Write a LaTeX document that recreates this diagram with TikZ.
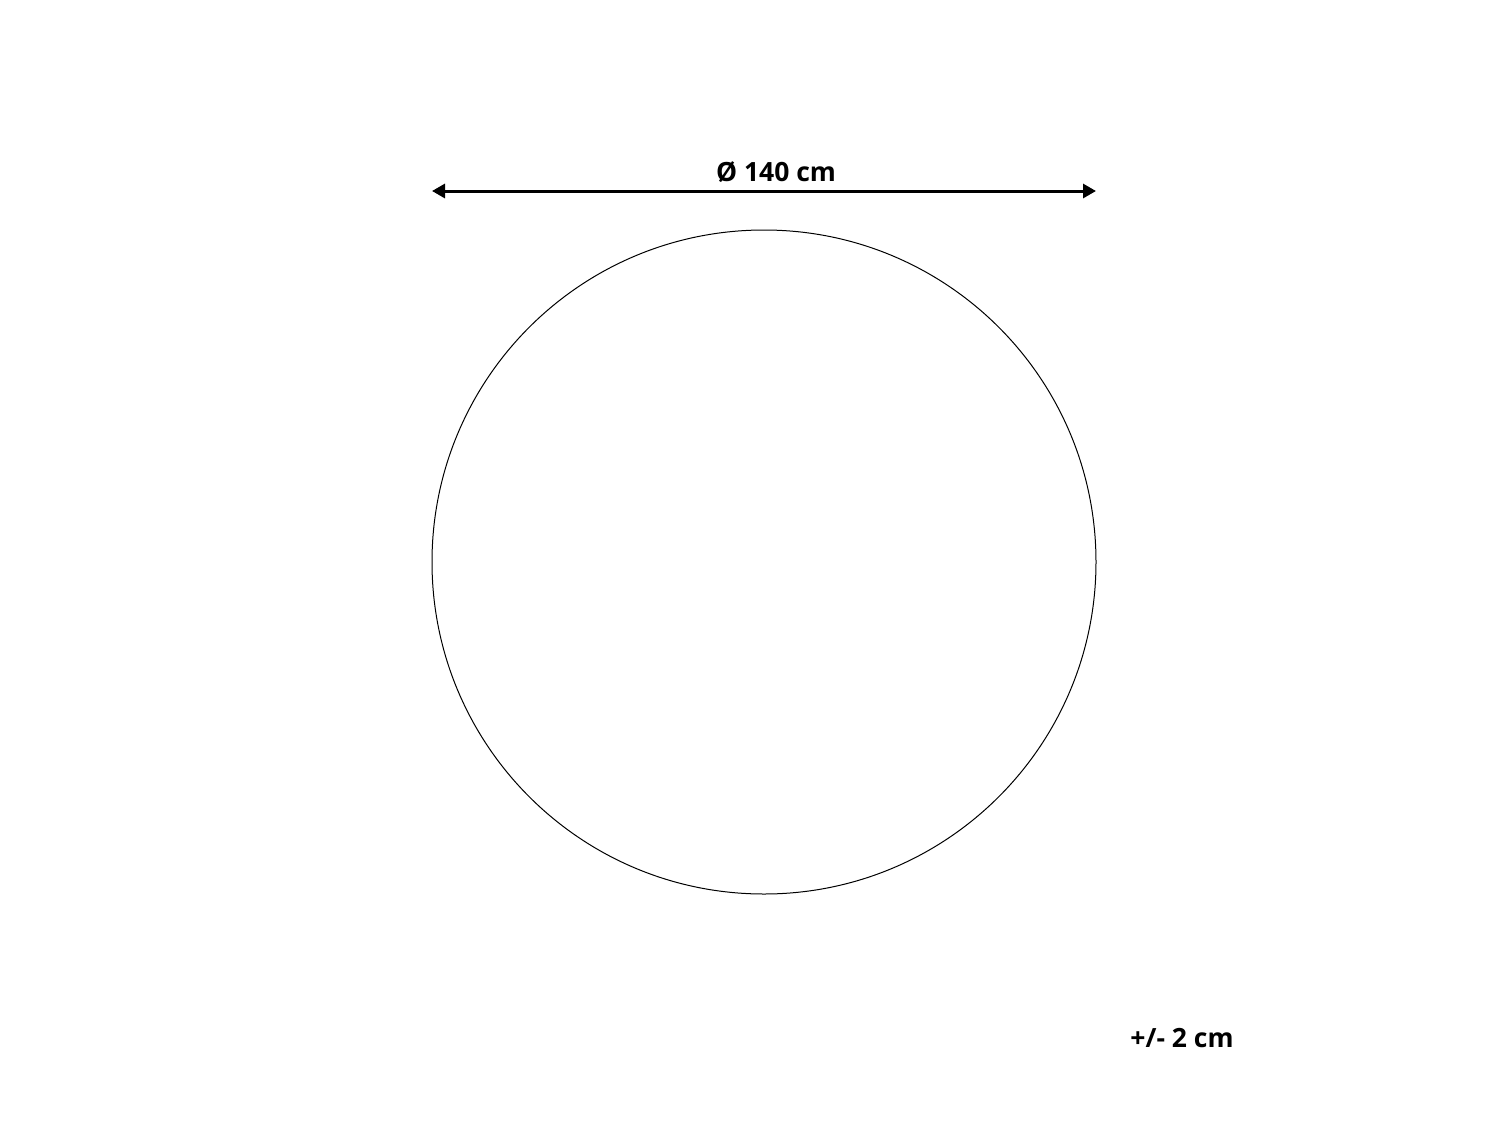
\documentclass[tikz,border=0pt]{standalone}
\usepackage{fontspec}
\setmainfont{Open Sans}
\usetikzlibrary{arrows.meta}
\begin{document}
\begin{tikzpicture}[x=1pt,y=-1pt,
  lbl/.style={font=\bfseries\fontsize{26.5}{30}\selectfont, inner sep=0pt, anchor=base},
  dim/.style={line width=3pt, {Triangle[length=13pt,width=14pt]}-{Triangle[length=13pt,width=14pt]}}]
\useasboundingbox (0,0) rectangle (1500,1125);
\node[draw, circle, line width=1pt, minimum size=664pt, inner sep=0pt] (rug) at (764,562) {};
\coordinate (l) at (432,191);
\coordinate (r) at (1096,191);
\draw[dim] (l) -- (r);
\node[lbl] (diam) at (776,181) {Ø 140 cm};
\node[lbl] (tol) at (1182,1047) {+/- 2 cm};
\end{tikzpicture}
\end{document}
